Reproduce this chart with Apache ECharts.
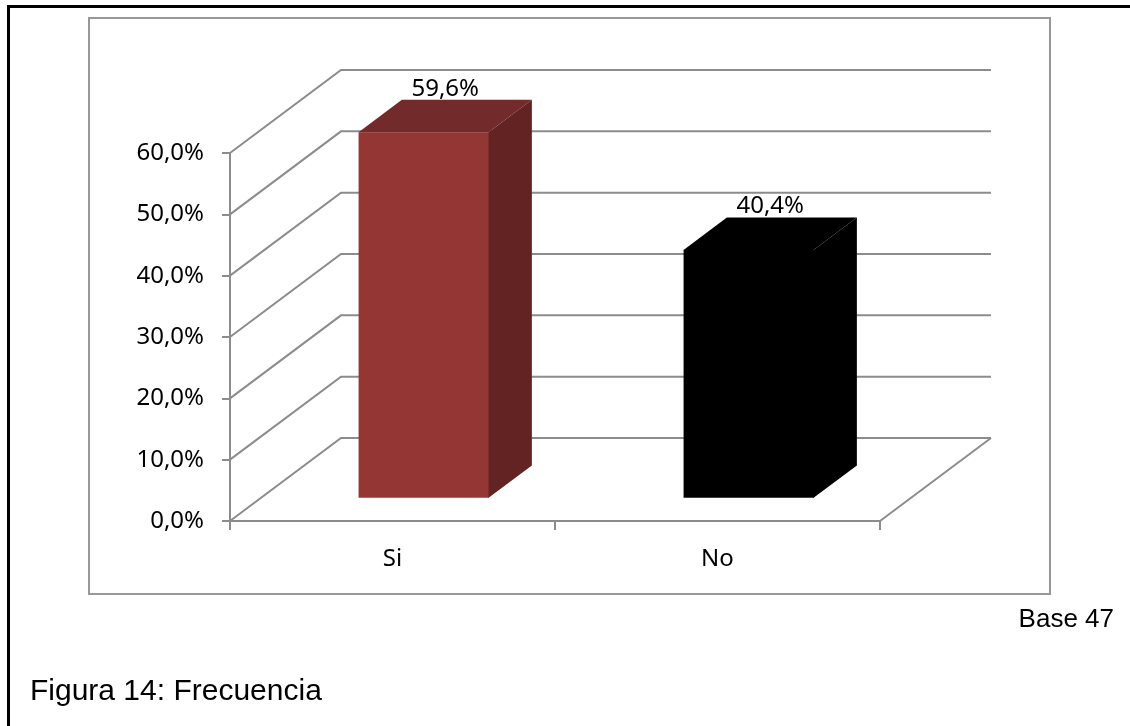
<!DOCTYPE html>
<html><head><meta charset="utf-8">
<script src="https://cdn.jsdelivr.net/npm/echarts@6/dist/echarts.min.js"></script>
<style>html,body{margin:0;padding:0;background:#fff}#c{width:1130px;height:726px}</style>
</head><body><div id="c"></div>
<script>
// ---- data ----
const categories = ['Si', 'No'];
const values = [59.6, 40.4];
const yTicks = [0, 10, 20, 30, 40, 50, 60];

// ---- styles ----
const FACE_COLORS = [
  { front: '#943634', top: '#722b2a', side: '#622322' },
  { front: '#000000', top: '#000000', side: '#000000' }
];
const GRID_COLOR = '#8c8c8c';
const DX = 111, DY = -83;      // depth offset of the 3D floor
const D0 = 0.28, D1 = 0.67;    // bar front/back depth fraction
const BAR_W = 0.4;             // bar width share of band
const FONT = 'Noto Sans';

function fmt(v) { return v.toFixed(1).replace('.', ',') + '%'; }

function renderWall(params, api) {
  const cs = params.coordSys;
  const v = api.value(1);
  const y = api.coord([0, v])[1];
  const x0 = cs.x, x1 = cs.x + cs.width;
  const st = { stroke: GRID_COLOR, lineWidth: 2, fill: null };
  const children = [
    { type: 'polyline', shape: { points: [[x0, y], [x0 + DX, y + DY], [x1 + DX, y + DY]] }, style: st }
  ];
  if (v === 0) {
    children.push({ type: 'line', shape: { x1: x1, y1: y, x2: x1 + DX, y2: y + DY }, style: st });
  }
  return { type: 'group', children: children };
}

function renderBar(params, api) {
  const idx = api.value(0), v = api.value(1);
  const base = api.coord([idx, 0]);
  const top = api.coord([idx, v]);
  const bw = api.size([1, 0])[0] * BAR_W;
  const fx0 = base[0] - bw / 2 + D0 * DX, fx1 = fx0 + bw;
  const fyB = base[1] + D0 * DY, fyT = top[1] + D0 * DY;
  const ox = (D1 - D0) * DX, oy = (D1 - D0) * DY;
  const c = FACE_COLORS[idx];
  return {
    type: 'group',
    children: [
      { type: 'rect', shape: { x: fx0, y: fyT, width: bw + 0.5, height: fyB - fyT }, style: { fill: c.front } },
      { type: 'polygon', shape: { points: [[fx0, fyT], [fx1, fyT], [fx1 + ox, fyT + oy], [fx0 + ox, fyT + oy]] }, style: { fill: c.top } },
      { type: 'polygon', shape: { points: [[fx1, fyT], [fx1 + ox, fyT + oy], [fx1 + ox, fyB + oy], [fx1, fyB]] }, style: { fill: c.side } },
      { type: 'text', style: { text: fmt(v), x: fx0 + bw / 2 + ox / 2, y: fyT + oy + 1, align: 'center', verticalAlign: 'bottom', fontFamily: FONT, fontSize: 24, fill: '#000' } }
    ]
  };
}

const chart = echarts.init(document.getElementById('c'), null, { renderer: 'canvas' });
chart.setOption({
  animation: false,
  backgroundColor: '#fff',
  grid: { left: 230, top: 153, width: 650, height: 368 },
  xAxis: {
    type: 'category', data: categories,
    axisLine: { lineStyle: { color: GRID_COLOR, width: 2 } },
    axisTick: { show: true, length: 9, lineStyle: { color: GRID_COLOR, width: 2 } },
    axisLabel: { fontFamily: FONT, fontSize: 24, color: '#000', margin: 26 },
    splitLine: { show: false }
  },
  yAxis: {
    type: 'value', min: 0, max: 60, interval: 10,
    axisLine: { show: true, lineStyle: { color: GRID_COLOR, width: 2 } },
    axisTick: { show: true, length: 8, lineStyle: { color: GRID_COLOR, width: 2 } },
    axisLabel: { formatter: fmt, fontFamily: FONT, fontSize: 24, color: '#000', margin: 26, padding: [4, 0, 0, 0] },
    splitLine: { show: false }
  },
  graphic: [
    { type: 'polyline', shape: { points: [[8.5, 726], [8.5, 6.5], [1130, 6.5]] }, style: { stroke: '#000', lineWidth: 3, fill: null } },
    { type: 'rect', shape: { x: 89, y: 18, width: 961, height: 576 }, style: { stroke: '#989898', lineWidth: 2, fill: null }, z: -1 },
    { type: 'text', style: { text: 'Base 47', x: 1114, y: 620, align: 'right', verticalAlign: 'middle', fontFamily: 'Liberation Sans', fontSize: 26, fill: '#000' } },
    { type: 'text', style: { text: 'Figura 14: Frecuencia', x: 30, y: 692, align: 'left', verticalAlign: 'middle', fontFamily: 'Liberation Sans', fontSize: 30, fill: '#000' } }
  ],
  series: [
    { type: 'custom', data: yTicks.map(v => [0, v]), renderItem: renderWall, z: 1, silent: true },
    { type: 'custom', data: values.map((v, i) => [i, v]), renderItem: renderBar, z: 2 }
  ]
});
</script></body></html>
